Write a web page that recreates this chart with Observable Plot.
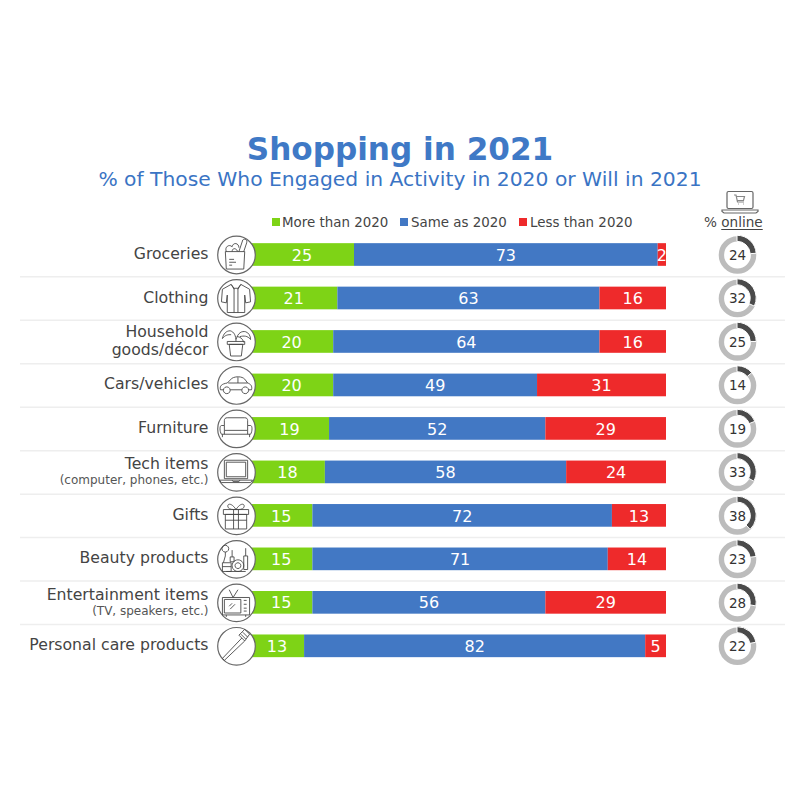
<!DOCTYPE html>
<html><head><meta charset="utf-8">
<script src="https://cdn.jsdelivr.net/npm/d3@7"></script>
<script src="https://cdn.jsdelivr.net/npm/@observablehq/plot@0.6"></script>
<style>
html,body{margin:0;background:#fff;}
body{width:800px;height:800px;overflow:hidden;font-family:"DejaVu Sans",sans-serif;}
#head{position:relative;width:800px;height:232px;}
#head>*{position:absolute;margin:0;white-space:nowrap;}
#title{left:0;width:800px;top:129px;text-align:center;font-size:31.100px;font-weight:700;line-height:40px;color:#3f79c6;}
#sub{left:0;width:800px;top:166px;text-align:center;font-size:20.300px;font-weight:400;line-height:26px;color:#3a74c4;}
.lg{top:214px;font-size:13.400px;line-height:17px;color:#444;}
.sw{top:218px;width:8px;height:8px;}
#online{left:704px;top:214px;font-size:13.600px;line-height:17px;color:#444;}
#online u{text-underline-offset:2px;}
#lap{left:720px;top:190px;}
#chart svg{display:block;}
</style></head><body>
<div id="head">
<h1 id="title">Shopping in 2021</h1>
<h2 id="sub">% of Those Who Engaged in Activity in 2020 or Will in 2021</h2>
<div class="sw" style="left:272px;background:#7ed316"></div><div class="lg" style="left:282px">More than 2020</div>
<div class="sw" style="left:400px;background:#4278c4"></div><div class="lg" style="left:411px">Same as 2020</div>
<div class="sw" style="left:519px;background:#ee2a2b"></div><div class="lg" style="left:530px">Less than 2020</div>
<svg id="lap" width="40" height="25" viewBox="0 0 40 25" fill="none" stroke="#666" stroke-width="1.200">
<rect x="7" y="1.500" width="26" height="17" rx="1.500"/><path d="M2 20H38V21.500L36 23H4L2 21.500Z"/>
<path d="M14 5h2l1.500 7h6.500M16.500 6.500h8l-1 4h-6.500M18 14h.8M23 14h.8" stroke="#888"/></svg>
<div id="online">% <u>online</u></div>
</div>
<div id="chart"></div>
<script>
const categories = ["Groceries","Clothing","Household goods/décor","Cars/vehicles","Furniture","Tech items","Gifts","Beauty products","Entertainment items","Personal care products"];
const moreThan2020 = [25,21,20,20,19,18,15,15,15,13];
const sameAs2020   = [73,63,64,49,52,58,72,71,56,82];
const lessThan2020 = [2,16,16,31,29,24,13,14,29,5];
const pctOnline    = [24,32,25,14,19,33,38,23,28,22];
const seriesNames  = ["More than 2020","Same as 2020","Less than 2020"];
const seriesColors = ["#7ed316","#4278c4","#ee2a2b"];
const singleLine = ["Groceries","Clothing","Cars/vehicles","Furniture","Gifts","Beauty products","Personal care products"];
const twoLineLabels = [["Household goods/décor","Household","goods/décor"]];
const mainWithSub = [["Tech items","Tech items","(computer, phones, etc.)"],["Entertainment items","Entertainment items","(TV, speakers, etc.)"]];

const iconPaths = {
 "Groceries":"M-11 -3H9L8 15H-10Z M-7 5h5M-7 8h7M-7 11h3 M-10 -3C-12 -8 -7 -11 -4 -8C-3 -13 3 -12 3 -7 M-4 -3C-4 -6 -1 -8 2 -3 M3 -3L7 -15C9 -17 12 -15 11 -12L8 -3",
 "Clothing":"M-5 -14L-14 -9L-15 4L-10 5L-9 -3V15H9V-3L10 5L15 4L14 -9L5 -14L2 -10H-2Z M-2 -10V15M2 -10V15 M-5 -14L-2 -9M5 -14L2 -9",
 "Household goods/décor":"M-9 0H9V3H-9Z M-7 3H7L5.500 15H-5.500Z M0 0C0 -6 -2 -10 -6 -11C-10 -11 -13 -8 -14 -3C-11 -7 -8 -7 -5 -7 M0 -2C2 -9 6 -11 10 -10C13 -9 15 -6 15 -2C12 -6 8 -6 4 -5 M1 -5C4 -5 7 -3 8 1",
 "Cars/vehicles":"M-16 5C-17 1 -15 -1 -9 -2L-4 -7C0 -9 6 -9 9 -6L12 -2C15 -1 17 1 16 5H13 M-6 5H6 M-16 5H-13 M-8 -2H12 M2 -8V-2 M-9.500 2a3.500 3.500 0 1 0 .01 0 M9.500 2a3.500 3.500 0 1 0 .01 0",
 "Furniture":"M-12 -3V-8C-12 -10 -11 -11 -9 -11H9C11 -11 12 -10 12 -8V-3 M-12 -3H-15C-17 -3 -17 3 -15 6H15C17 3 17 -3 15 -3H12V2H-12V-3 M-14 6V9M14 6V9 M-12 6V2 M12 6V2",
 "Tech items":"M-12 -12H12V7H-12Z M-10 -10H10V5H-10Z M-17 8.500H17L15 11H-15Z M-4 8.500L-3 10H3L4 8.500",
 "Gifts":"M-13 -6H13V-1H-13Z M-11 -1H11V14H-11Z M-2.500 -6V14M2.500 -6V14 M-11 5H11 M0 -6C-5 -14 -10 -12 -8 -8C-7 -6 -3 -6 0 -6C3 -6 7 -6 8 -8C10 -12 5 -14 0 -6",
 "Beauty products":"M-11 -14a3.500 3.500 0 1 0 .01 0 M-11 -7V-3L-13 4 M-4 -9V-2M-6 -2H-2V3H-6Z M10 -11V-3M8 -3H12V11H8Z M2 1a6 6 0 1 0 .01 0 M2 4a3 3 0 1 0 .01 0 M-14 4H-5V13H-14Z M-14 8H-5 M-10 13H10",
 "Entertainment items":"M-14 -5H14V13H-14Z M-12 -3H5V11H-12Z M8 -2h3M8 2h3M8 6h3M8 9h3 M-3 -5L-7 -13M-3 -5L2 -13 M-10 13V15M10 13V15 M-7 4L-4 1M-6 7L-1 2",
 "Personal care products":"M-12 15L-14 13L6 -8L9 -5Z M6 -8L3 -11L9 -17L14 -12L9 -5 M5 -12L10 -7M7 -14L12 -9"
};

const rows = categories.map((cat,i)=>({cat,online:pctOnline[i],icon:iconPaths[cat]}));
const stack = categories.flatMap((cat,i)=>[moreThan2020[i],sameAs2020[i],lessThan2020[i]].map((value,k)=>({cat,value,series:seriesNames[k]})));
const yRange = [0.76,435.56];
const rowHalf = (yRange[1]-yRange[0])/categories.length/2;

const plot = Plot.plot({
  width:800,height:450,margin:0,
  style:{fontFamily:'"DejaVu Sans",sans-serif',background:"transparent"},
  x:{domain:[0,100],range:[250,666],axis:null},
  y:{type:"band",domain:categories,range:yRange,padding:0,round:false,axis:null},
  color:{domain:seriesNames,range:seriesColors},
  marks:[
    Plot.ruleY(categories.slice(0,-1),{y:d=>d,x1:-55.3,x2:128.6,dy:rowHalf,stroke:"#eeeeee",strokeWidth:1.500}),
    Plot.barX(stack,Plot.stackX({x:"value",y:"cat",z:"series",fill:"series",order:null,insetTop:10.400,insetBottom:10.400})),
    Plot.text(stack,Plot.stackX({x:"value",y:"cat",z:"series",text:d=>String(d.value),order:null,fill:"white",fontSize:16,dx:-0.5,dy:0.5})),
    Plot.text(singleLine,{x:()=>0,y:d=>d,text:d=>d,textAnchor:"end",dx:-42,dy:-1,fontSize:15.700,fill:"#444"}),
    Plot.text(twoLineLabels,{x:()=>0,y:d=>d[0],text:d=>d[1],textAnchor:"end",dx:-42,dy:-10,fontSize:15.700,fill:"#444"}),
    Plot.text(twoLineLabels,{x:()=>0,y:d=>d[0],text:d=>d[2],textAnchor:"end",dx:-42,dy:8.500,fontSize:15.700,fill:"#444"}),
    Plot.text(mainWithSub,{x:()=>0,y:d=>d[0],text:d=>d[1],textAnchor:"end",dx:-42,dy:-8,fontSize:15.700,fill:"#444"}),
    Plot.text(mainWithSub,{x:()=>0,y:d=>d[0],text:d=>d[2],textAnchor:"end",dx:-42,dy:8,fontSize:12,fill:"#555"}),
    Plot.dot(rows,{x:()=>0,y:"cat",dx:-14,r:18.800,fill:"white",stroke:"#666",strokeWidth:1.200}),
    Plot.dot(rows,{x:()=>0,y:"cat",r:1,render(index,scales,values){
      const g=d3.create("svg:g").attr("fill","none").attr("stroke","#444").attr("stroke-width",0.9);
      for(const i of index) g.append("path").attr("transform",`translate(${values.x[i]-14},${values.y[i]+rowHalf}) scale(.97)`).attr("d",rows[i].icon);
      return g.node();
    }}),
    Plot.dot(rows,{x:()=>100,y:"cat",dx:71,r:16.100,fill:"none",stroke:"#bcbcbc",strokeWidth:5.400}),
    Plot.dot(rows,{x:()=>100,y:"cat",r:1,render(index,scales,values){
      const g=d3.create("svg:g");
      const arc=d3.arc().innerRadius(13.2).outerRadius(19.2).startAngle(0);
      for(const i of index) g.append("path").attr("transform",`translate(${values.x[i]+71},${values.y[i]+rowHalf})`)
        .attr("d",arc({endAngle:rows[i].online/100*2*Math.PI})).attr("fill","#4a4a4a").attr("stroke","white").attr("stroke-width",1);
      return g.node();
    }}),
    Plot.text(rows,{x:()=>100,y:"cat",dx:71,dy:0.5,text:d=>String(d.online),fontSize:13.500,fill:"#333"})
  ]
});
document.getElementById("chart").appendChild(plot);
</script></body></html>
